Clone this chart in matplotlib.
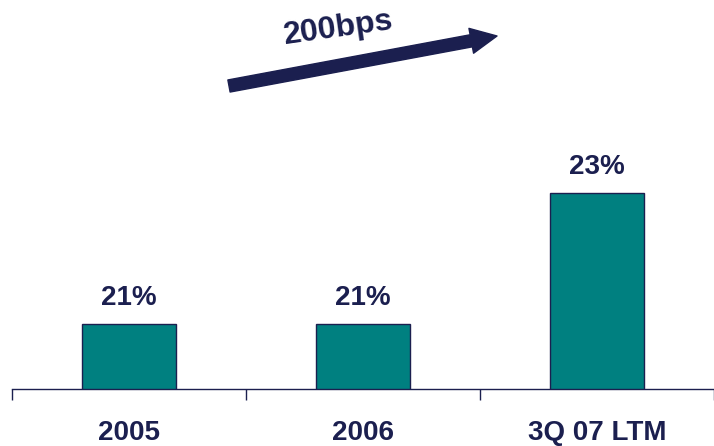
import matplotlib.pyplot as plt
from matplotlib.patches import FancyArrowPatch

# margen por periodo (%)
periods = ["2005", "2006", "3Q 07 LTM"]
margins = [21, 21, 23]
value_labels = ["21%", "21%", "23%"]
arrow_text = "200bps"

navy = "#1b1f4f"
teal = "#008080"

plt.rcParams["font.family"] = ["Liberation Sans", "DejaVu Sans"]
plt.rcParams["font.weight"] = "bold"

fig = plt.figure(figsize=(7.14, 4.46), dpi=100)
ax = fig.add_axes([12 / 714, 57 / 446, 702 / 714, 389 / 446])

x = range(len(periods))
ax.bar(x, margins, width=0.4, color=teal, edgecolor=navy, linewidth=1.0, zorder=2)

for xi, v, lab in zip(x, margins, value_labels):
    ax.annotate(lab, (xi, v), xytext=(0, 9), textcoords="offset points",
                ha="center", va="bottom", fontsize=20, fontweight="bold", color=navy)

ax.set_xlim(-0.5, 2.468)
ax.set_ylim(20, 25.94)

for s in ["left", "right", "top"]:
    ax.spines[s].set_visible(False)
ax.spines["bottom"].set_color(navy)
ax.spines["bottom"].set_linewidth(1.0)
ax.set_yticks([])

ax.set_xticks(list(x))
ax.set_xticklabels(periods, fontsize=20, fontweight="bold", color=navy)
ax.tick_params(axis="x", which="major", length=0, pad=22)
ax.set_xticks([-0.5, 0.5, 1.5, 2.5], minor=True)
ax.tick_params(axis="x", which="minor", length=8, width=1.0, color=navy, direction="out")

# flecha de mejora
arrow = FancyArrowPatch((229, 446 - 86), (497, 446 - 36),
                        arrowstyle="simple,head_length=1.45,head_width=1.4,tail_width=0.68",
                        mutation_scale=13, color=navy, shrinkA=0, shrinkB=0,
                        transform=None)
fig.add_artist(arrow)
fig.text(338 / 714, 1 - 28 / 446, arrow_text, rotation=8, rotation_mode="anchor",
         ha="center", va="center", fontsize=23, fontweight="bold", color=navy)

fig.savefig("out.png", dpi=100)
